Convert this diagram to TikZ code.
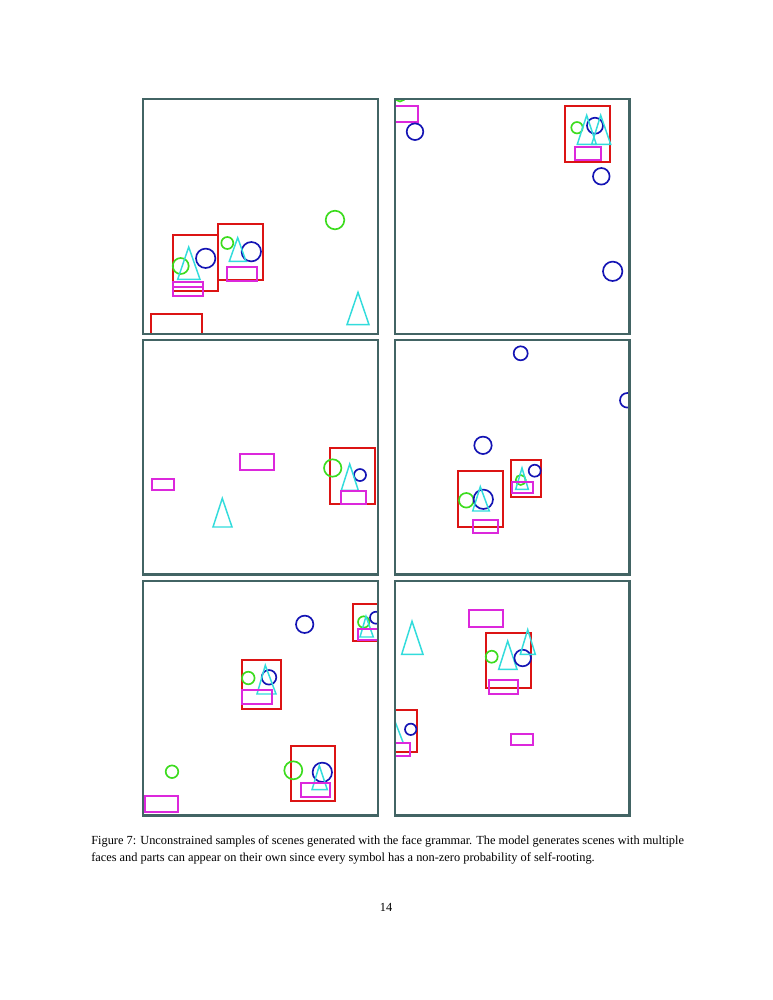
\documentclass[tikz,border=0pt]{standalone}
\usepackage{fontspec}
\setmainfont{Liberation Serif}
\definecolor{framecol}{RGB}{66,100,100}
\definecolor{redc}{RGB}{220,20,20}
\definecolor{bluec}{RGB}{20,20,180}
\definecolor{greenc}{RGB}{60,220,30}
\definecolor{cyanc}{RGB}{50,220,220}
\definecolor{magc}{RGB}{220,40,220}
\tikzset{
  panelframe/.style={draw=framecol, line width=1.9pt},
  rf/.style={draw=redc, line width=1.5pt},
  bc/.style={draw=bluec, line width=1.25pt},
  gc/.style={draw=greenc, line width=1.25pt},
  ct/.style={draw=cyanc, line width=1.1pt},
  mr/.style={draw=magc, line width=1.5pt},
  captxt/.style={anchor=base west, inner sep=0pt, font=\fontsize{9.27}{11.5}\selectfont}
}
\begin{document}
\begin{tikzpicture}[x=0.75pt,y=-0.75pt]
\useasboundingbox (0,0) rectangle (773,1000);
\fill[white] (0,0) rectangle (773,1000);

% ---------- Panel 1 ----------
\begin{scope}
\clip (143,99) rectangle (378,334);
\draw[rf] (172.7,235.3) rectangle (217.7,291);
\draw[rf] (218,224.3) rectangle (262.7,280.3);
\draw[rf] (151,314) rectangle (202.3,340);
\draw[gc] (335,220) circle [radius=9.3];
\draw[gc] (180.7,266) circle [radius=8];
\draw[gc] (227.3,243) circle [radius=6];
\draw[bc] (205.7,258.3) circle [radius=9.7];
\draw[bc] (251.3,251.7) circle [radius=9.7];
\draw[ct] (188.7,247) -- (177.7,279.3) -- (200,279.3) -- cycle;
\draw[ct] (237.7,237.7) -- (229.3,261.3) -- (246,261.3) -- cycle;
\draw[ct] (358,292.3) -- (347,324.7) -- (369,324.7) -- cycle;
\draw[mr] (173,281.7) rectangle (202.7,296);
\draw[mr] (173,286.7) rectangle (202.7,296);
\draw[mr] (227.3,267) rectangle (256.7,281.3);
\end{scope}
\draw[panelframe] (143,99) rectangle (378,334);

% ---------- Panel 2 ----------
\begin{scope}
\clip (395,99) rectangle (629.3,334);
\draw[gc] (400,96) circle [radius=5.5];
\draw[mr] (385,105.7) rectangle (418.3,121.7);
\draw[bc] (415,131.7) circle [radius=8.3];
\draw[rf] (564.7,105.7) rectangle (609.7,161.7);
\draw[gc] (577,127.7) circle [radius=5.7];
\draw[bc] (595,125.7) circle [radius=8];
\draw[ct] (586.7,115.3) -- (577.3,144.3) -- (596.3,144.3) -- cycle;
\draw[ct] (600.7,115.3) -- (591.7,144.3) -- (610.7,144.3) -- cycle;
\draw[mr] (575,147.3) rectangle (600.7,160);
\draw[bc] (601.3,176.3) circle [radius=8.3];
\draw[bc] (612.7,271.3) circle [radius=9.7];
\end{scope}
\draw[panelframe] (395,99) rectangle (629.3,334);

% ---------- Panel 3 ----------
\begin{scope}
\clip (143,340) rectangle (378,574.7);
\draw[rf] (330.3,448) rectangle (375.3,504);
\draw[gc] (332.7,468) circle [radius=8.7];
\draw[bc] (360,475) circle [radius=6];
\draw[ct] (349.7,464) -- (341.3,490.3) -- (358.3,490.3) -- cycle;
\draw[mr] (340.7,491) rectangle (366.3,503.7);
\draw[mr] (240,453.7) rectangle (274,470.3);
\draw[mr] (151.7,478.7) rectangle (174.3,489.7);
\draw[ct] (222.3,498.3) -- (213,527) -- (232,527) -- cycle;
\end{scope}
\draw[panelframe] (143,340) rectangle (378,574.7);

% ---------- Panel 4 ----------
\begin{scope}
\clip (395,340) rectangle (629.3,574.7);
\draw[bc] (520.7,353.3) circle [radius=7];
\draw[bc] (627.3,400.3) circle [radius=7.3];
\draw[bc] (483,445.3) circle [radius=8.7];
\draw[rf] (457.7,470.7) rectangle (502.7,527);
\draw[gc] (466.3,500.3) circle [radius=7.3];
\draw[bc] (483.3,499.3) circle [radius=9.7];
\draw[ct] (480.3,486.7) -- (472.7,511) -- (489.3,511) -- cycle;
\draw[mr] (472.7,520.3) rectangle (498,533);
\draw[rf] (511,460) rectangle (541,497);
\draw[bc] (534.7,470.7) circle [radius=6];
\draw[gc] (520.7,480) circle [radius=5];
\draw[ct] (522,468) -- (515.7,489.3) -- (528.3,489.3) -- cycle;
\draw[mr] (511.7,482.3) rectangle (533,492.7);
\end{scope}
\draw[panelframe] (395,340) rectangle (629.3,574.7);

% ---------- Panel 5 ----------
\begin{scope}
\clip (143,581) rectangle (378,815.7);
\draw[bc] (304.7,624.3) circle [radius=8.7];
\draw[rf] (352.7,604.3) rectangle (390,641.3);
\draw[gc] (363.7,622) circle [radius=5.7];
\draw[bc] (376,617.7) circle [radius=6];
\draw[ct] (366,616.3) -- (360,637) -- (373.3,637) -- cycle;
\draw[mr] (357.7,628.7) rectangle (390,640.3);
\draw[rf] (242.3,660.3) rectangle (281.3,709.3);
\draw[gc] (248.3,678) circle [radius=6.3];
\draw[bc] (269,677.3) circle [radius=7.3];
\draw[ct] (265.3,665.3) -- (257,694) -- (276,694) -- cycle;
\draw[mr] (242.3,689.7) rectangle (271.7,704.3);
\draw[rf] (291,745.7) rectangle (335.3,801.3);
\draw[gc] (293.3,770.3) circle [radius=9];
\draw[bc] (322.3,772.3) circle [radius=9.7];
\draw[ct] (319.3,765.7) -- (312,789.7) -- (327.3,789.7) -- cycle;
\draw[mr] (301.3,783) rectangle (330.3,797.3);
\draw[gc] (172,771.7) circle [radius=6.3];
\draw[mr] (144.7,796) rectangle (178.3,812.3);
\end{scope}
\draw[panelframe] (143,581) rectangle (378,815.7);

% ---------- Panel 6 ----------
\begin{scope}
\clip (395,581) rectangle (629.3,815.7);
\draw[ct] (412,621.3) -- (401.7,654.3) -- (423,654.3) -- cycle;
\draw[mr] (469.3,610.3) rectangle (503,626.7);
\draw[rf] (486.3,632.7) rectangle (530.7,688.3);
\draw[gc] (491.7,656.7) circle [radius=6];
\draw[ct] (507.7,641) -- (498.7,669.3) -- (517,669.3) -- cycle;
\draw[bc] (522.7,658) circle [radius=8.3];
\draw[ct] (527.7,629.7) -- (520.3,654.3) -- (535.3,654.3) -- cycle;
\draw[mr] (489.3,680.3) rectangle (518.3,694.3);
\draw[rf] (380,710.3) rectangle (417,752);
\draw[bc] (410.7,729.3) circle [radius=5.7];
\draw[ct] (391,711) -- (381,743) -- (403.3,743) -- cycle;
\draw[mr] (380,743.3) rectangle (410.3,756.3);
\draw[mr] (511,734.3) rectangle (533.3,745.3);
\end{scope}
\draw[panelframe] (395,581) rectangle (629.3,815.7);

% ---------- Caption ----------
\node[captxt] (cap1) at (91,844) {Figure 7: Unconstrained samples of scenes generated with the face grammar. The model generates scenes with multiple};
\node[captxt] (cap2) at (91,861) {faces and parts can appear on their own since every symbol has a non-zero probability of self-rooting.};
\node[captxt, anchor=base] (pnum) at (386,911) {14};
\end{tikzpicture}
\end{document}
